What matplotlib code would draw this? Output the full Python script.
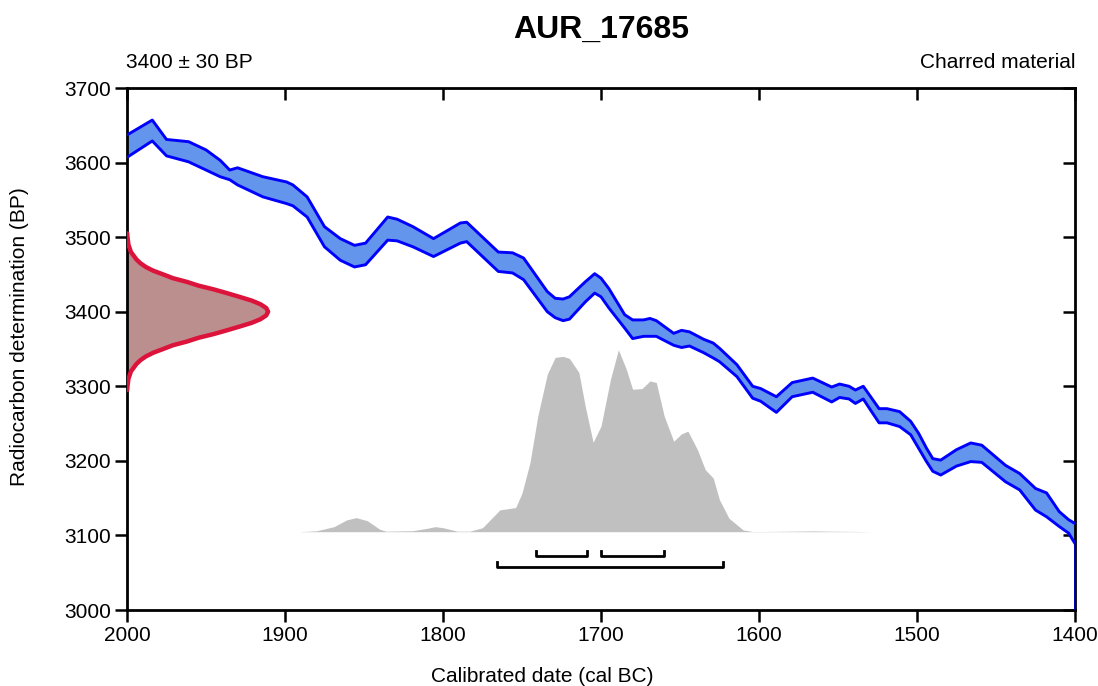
import numpy as np
import matplotlib
matplotlib.use("Agg")
import matplotlib.pyplot as plt

plt.rcParams['font.family'] = ['Liberation Sans', 'DejaVu Sans']

# calibration curve envelope (cal BC, BP)
cal_year = [2000, 1984, 1975, 1961, 1950, 1941, 1935, 1930, 1914, 1899, 1895, 1886,
            1875, 1865, 1856, 1849, 1835, 1829, 1819, 1806, 1789, 1785, 1765, 1756,
            1749, 1734, 1729, 1724, 1720, 1710, 1704, 1700, 1695, 1685, 1680, 1673,
            1669, 1665, 1654, 1649, 1644, 1635, 1629, 1625, 1614, 1604, 1599, 1589,
            1579, 1566, 1554, 1549, 1543, 1539, 1534, 1530, 1524, 1519, 1511, 1504,
            1499, 1494, 1490, 1485, 1475, 1466, 1459, 1444, 1435, 1425, 1418, 1410,
            1404, 1400]
cal_upper = [3637, 3657, 3631, 3628, 3617, 3603, 3590, 3593, 3581, 3574, 3570, 3554,
             3514, 3498, 3489, 3492, 3527, 3524, 3514, 3498, 3519, 3520, 3480, 3479,
             3472, 3427, 3418, 3417, 3420, 3440, 3451, 3445, 3431, 3396, 3389, 3389,
             3391, 3388, 3371, 3375, 3373, 3363, 3358, 3351, 3329, 3300, 3297, 3286,
             3305, 3311, 3299, 3303, 3300, 3295, 3300, 3288, 3270, 3270, 3266, 3253,
             3237, 3217, 3203, 3201, 3215, 3224, 3221, 3194, 3183, 3163, 3157, 3132,
             3121, 3116]
cal_lower = [3607, 3629, 3609, 3601, 3590, 3581, 3577, 3570, 3554, 3545, 3542, 3527,
             3487, 3469, 3460, 3463, 3496, 3495, 3487, 3474, 3492, 3494, 3454, 3452,
             3443, 3400, 3392, 3388, 3390, 3413, 3425, 3420, 3405, 3378, 3364, 3367,
             3367, 3367, 3355, 3352, 3354, 3345, 3338, 3333, 3313, 3284, 3280, 3265,
             3286, 3292, 3279, 3285, 3283, 3277, 3283, 3270, 3251, 3251, 3246, 3235,
             3217, 3199, 3186, 3181, 3193, 3199, 3198, 3172, 3161, 3134, 3125, 3112,
             3103, 3089]

# radiocarbon measurement 3400 +- 30 BP, width in years off the left edge
rc_bp = [3505, 3500, 3490, 3480, 3470, 3465, 3460, 3455, 3450, 3445, 3440, 3435,
         3430, 3425, 3420, 3415, 3410, 3405, 3400, 3395, 3390, 3385, 3380, 3375,
         3370, 3365, 3360, 3355, 3350, 3345, 3340, 3335, 3330, 3320, 3310, 3300, 3295]
rc_width = [0.1, 0.3, 0.9, 2.5, 6.0, 8.5, 11.9, 16.6, 22.9, 29.0, 37.9, 45.2,
            54.8, 63.1, 71.1, 78.8, 84.5, 88.1, 89.3, 88.1, 84.5, 78.8, 71.1, 63.1,
            54.8, 45.2, 37.9, 29.0, 22.9, 16.6, 11.9, 8.5, 6.0, 2.5, 0.9, 0.3, 0.1]

# calibrated probability (relative)
post_year = [1891, 1880, 1869, 1861, 1855, 1848, 1840, 1836, 1819, 1810, 1805, 1800,
             1791, 1783, 1775, 1764, 1754, 1750, 1745, 1740, 1734, 1729, 1724, 1720,
             1714, 1710, 1705, 1700, 1694, 1689, 1684, 1680, 1674, 1669, 1665, 1660,
             1654, 1649, 1645, 1639, 1634, 1629, 1625, 1619, 1610, 1604, 1590, 1575,
             1565, 1555, 1540, 1528]
post_prob = [0, 0.9, 5, 11.7, 14, 11, 2.4, 0.5, 1, 3.4, 5, 4,
             0.5, 0.5, 4, 21.7, 24, 38.4, 68.4, 115, 156.7, 173.4, 174.4, 172.4,
             158.4, 125, 89, 105, 151.7, 181, 161.7, 141.7, 142.4, 150, 148.4, 115,
             90, 97.4, 100, 81.7, 61.7, 53.4, 31.7, 13.4, 1.7, 0.2, 0.3, 0.6,
             0.8, 0.5, 0.3, 0]

# highest posterior density ranges
hpd68 = [(1741, 1709), (1700, 1660)]
hpd95 = [(1766, 1623)]

title = "AUR_17685"
date_text = "3400 \u00b1 30 BP"
material = "Charred material"

fig = plt.figure(figsize=(10.98, 6.86), dpi=100)
ax = fig.add_axes([127 / 1098, 1 - 610 / 686, 948 / 1098, 522 / 686])

# calibration band
ax.fill_between(cal_year, cal_lower, cal_upper, color='#6495ED', lw=0, zorder=2)
for edge in (cal_upper, cal_lower):
    ax.plot(cal_year, edge, color='#0000FF', lw=2.1, zorder=3,
            solid_joinstyle='round', solid_capstyle='round')
ax.plot([cal_year[-1], cal_year[-1]], [cal_lower[-1], 3000], color='#0000CC', lw=2, zorder=3)

# measurement distribution on the y axis
rc_x = 2000 - np.array(rc_width)
ax.fill_betweenx(rc_bp, 2000, rc_x, color='#BC8F8F', lw=0, zorder=2)
ax.plot(np.r_[2000, rc_x, 2000], np.r_[rc_bp[0], rc_bp, rc_bp[-1]],
        color='#DC143C', lw=3.2, zorder=3, solid_joinstyle='round')

# calibrated distribution
base = 3105
p = np.array(post_prob)
ax.fill_between(post_year, base, base + p / p.max() * 244, color='#C0C0C0', lw=0, zorder=1)

# range brackets
for (a, b) in hpd68:
    ax.plot([a, a, b, b], [3079, 3072, 3072, 3079], color='black', lw=2, zorder=4)
for (a, b) in hpd95:
    ax.plot([a, a, b, b], [3065, 3057, 3057, 3065], color='black', lw=2, zorder=4)

ax.set_xlim(2000, 1400)
ax.set_ylim(3000, 3700)
ax.set_xticks(np.arange(2000, 1399, -100))
ax.set_yticks(np.arange(3000, 3701, 100))

for s in ax.spines.values():
    s.set_linewidth(2)
ax.tick_params(axis='both', which='both', labelsize=15, width=1.8, length=8.5,
               direction='out', pad=3)
ax2 = ax.secondary_xaxis('top')
ax2.set_xticks(np.arange(2000, 1399, -100))
ax2.tick_params(direction='in', length=8.5, width=1.8, labeltop=False)
ax3 = ax.secondary_yaxis('right')
ax3.set_yticks(np.arange(3000, 3701, 100))
ax3.tick_params(direction='in', length=8.5, width=1.8, labelright=False)

fig.text(601 / 1098, 1 - 30 / 686, title, ha='center', va='center',
         fontsize=23, fontweight='bold')
fig.text(126 / 1098, 1 - 62 / 686, date_text, ha='left', va='center', fontsize=15)
fig.text(1076 / 1098, 1 - 62 / 686, material, ha='right', va='center', fontsize=15)
fig.text(542 / 1098, 1 - 677 / 686, "Calibrated date (cal BC)", ha='center',
         va='center', fontsize=15)
fig.text(20 / 1098, 1 - 337 / 686, "Radiocarbon determination (BP)", ha='center',
         va='center', rotation=90, fontsize=15)

fig.savefig("out.png", dpi=100)
